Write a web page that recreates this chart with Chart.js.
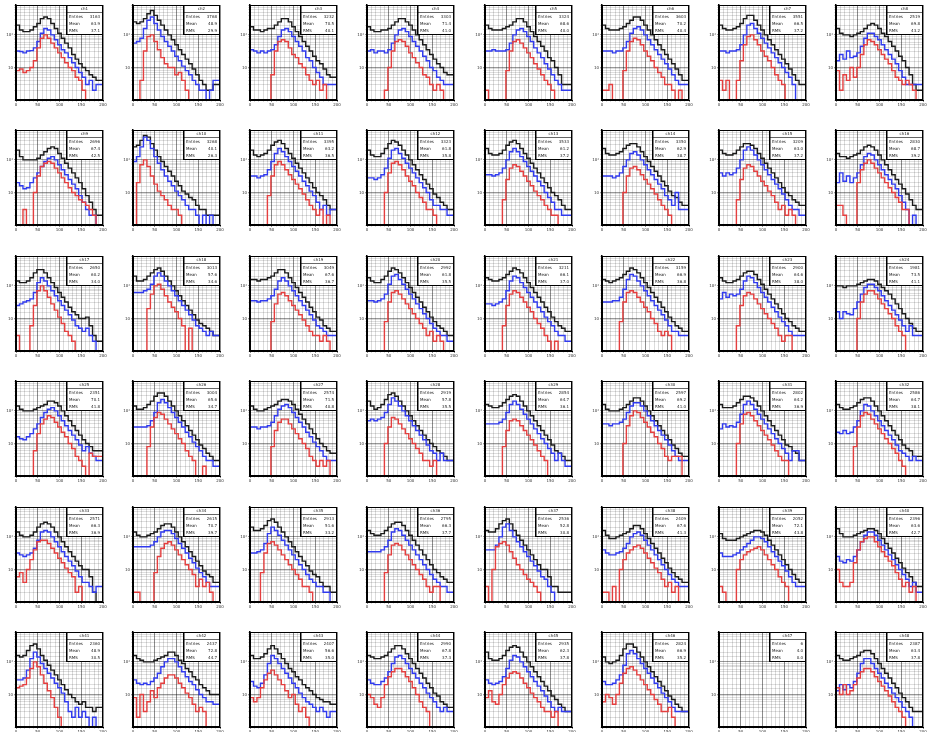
<!DOCTYPE html>
<html>
<head>
<meta charset="utf-8">
<script src="https://cdn.jsdelivr.net/npm/chart.js@4.4.1/dist/chart.umd.min.js"></script>
<style>
  html, body { margin: 0; padding: 0; background: #fff; overflow: hidden; }
  #grid { position: relative; width: 927px; height: 732px; }
  #grid canvas { position: absolute; }
</style>
</head>
<body>
<div id="grid"></div>
<script>
// histogram binning (25 bins over 0..200)
const binWidth = 8;
const xMax = 200;
const yMin = 1;
const yMax = 830;
const xTickLabels = ["0", "50", "100", "150", "200"];
const yTickValues = [10, 100];
const yTickLabels = ["10", "10\u00b2"];

// all entries (black), one row per panel, left to right, top to bottom
const totalHist = [
  [282,200,141,126,126,141,178,224,316,355,316,224,158,112,79,56,40,25,18,13,10,8,6,5,4],
  [355,251,224,251,316,447,562,398,282,200,141,100,71,50,35,25,18,13,9,6,4,3,2,2,3],
  [251,178,141,141,126,141,158,158,200,251,316,316,251,178,126,89,63,45,32,22,16,13,9,6,5],
  [282,178,141,126,126,141,141,158,200,251,316,316,251,200,141,100,71,50,35,25,18,13,10,7,6],
  [282,200,158,141,141,141,158,178,200,251,316,316,251,178,126,89,63,45,32,20,16,10,6,3,3],
  [316,200,158,141,141,141,158,178,224,282,355,355,282,200,141,100,71,50,35,25,18,13,9,6,4],
  [282,200,158,141,141,158,178,224,316,398,398,282,200,141,100,71,50,35,25,18,13,9,6,4,3],
  [282,158,112,100,100,89,100,112,126,158,200,224,200,158,112,89,63,45,32,22,16,10,6,3,2],
  [316,200,126,100,100,100,100,112,141,178,224,251,224,158,112,79,56,40,28,20,13,8,5,3,2],
  [316,251,282,398,562,501,316,200,126,89,63,45,32,22,16,11,9,7,6,4,3,3,2,2,2],
  [316,200,141,126,141,158,200,282,355,398,316,224,158,112,79,56,40,28,20,14,10,8,6,4,3],
  [316,200,141,126,126,158,224,316,398,355,282,200,141,100,71,50,35,25,18,13,9,7,5,4,3],
  [398,224,158,141,141,158,200,282,355,398,316,224,158,112,79,56,40,28,20,14,10,8,6,4,3],
  [355,224,158,141,141,158,178,224,282,316,316,251,178,126,89,63,45,32,22,16,11,8,7,5,4],
  [282,200,158,141,141,158,200,251,316,316,282,224,158,112,79,56,40,28,20,14,10,8,6,5,4],
  [224,158,126,126,112,126,141,158,200,251,282,251,200,141,100,71,50,35,25,18,13,9,6,4,3],
  [178,141,126,126,141,178,251,316,316,251,178,126,89,63,45,32,22,16,13,10,10,11,6,3,2],
  [282,200,141,141,158,200,251,316,355,282,200,141,100,71,50,35,25,18,13,9,7,6,5,4,3],
  [158,158,158,141,158,158,178,200,251,316,316,251,178,126,89,63,45,32,22,16,11,9,6,5,4],
  [251,178,141,126,126,158,200,282,355,316,251,178,126,89,63,45,32,22,16,11,8,6,5,4,3],
  [224,178,158,141,141,158,178,224,282,355,316,251,178,126,89,63,45,32,22,16,11,8,6,5,4],
  [224,158,141,126,141,158,178,224,282,355,316,251,178,126,89,63,45,32,22,16,11,8,6,5,4],
  [251,178,141,126,126,141,158,200,251,282,282,224,158,112,79,56,40,28,20,14,10,8,6,5,4],
  [100,100,100,89,100,100,100,112,126,141,158,158,141,112,89,71,56,40,28,20,14,10,7,5,4],
  [200,141,112,100,100,100,112,126,141,158,200,200,178,141,100,71,50,35,25,18,13,10,8,6,6],
  [200,141,112,112,126,158,200,282,355,355,282,200,141,100,71,50,35,25,18,13,9,7,5,4,3],
  [200,141,112,100,100,112,126,141,158,200,224,224,200,158,112,79,56,40,28,20,14,10,8,6,5],
  [316,200,141,112,126,158,224,316,355,282,200,141,100,71,50,35,25,18,13,10,8,6,5,4,3],
  [200,158,141,126,126,141,178,224,282,316,282,200,141,100,71,50,35,25,18,13,9,6,5,4,3],
  [251,158,112,100,100,100,112,126,158,200,251,251,200,141,100,71,50,35,25,18,13,9,7,5,4],
  [224,158,126,126,126,141,178,224,282,282,251,200,141,100,71,50,35,25,18,13,9,8,6,5,3],
  [224,158,126,112,112,126,141,178,224,251,251,200,141,100,71,50,35,25,18,13,9,7,6,4,4],
  [200,141,112,100,100,112,141,200,251,282,251,200,141,100,71,50,35,25,18,13,10,10,6,2,0],
  [200,141,112,100,100,112,126,141,178,224,251,251,200,141,100,71,50,35,25,18,13,9,7,6,4],
  [355,200,158,158,178,224,316,355,282,200,141,100,71,50,35,25,18,13,9,7,6,4,3,3,2],
  [224,158,126,112,112,126,158,200,251,282,282,224,158,112,79,56,40,28,20,14,10,8,6,5,4],
  [200,158,141,141,178,251,316,355,251,158,112,79,56,40,28,20,14,10,10,6,3,3,2,2,2],
  [251,158,112,89,89,100,112,126,141,178,224,224,178,126,89,63,45,32,22,16,11,8,6,5,4],
  [200,126,89,79,79,79,89,100,112,126,141,158,158,141,112,79,56,40,28,20,14,10,7,5,4],
  [316,178,126,100,100,100,112,126,141,158,178,178,158,126,89,63,45,32,22,16,11,8,6,4,3],
  [200,158,141,158,224,316,355,251,158,112,79,56,40,28,20,14,10,8,6,5,6,4,4,3,4],
  [200,158,126,112,100,100,100,112,126,141,158,200,200,158,112,89,63,50,35,28,20,16,13,10,10],
  [200,158,126,126,141,178,251,316,251,178,126,89,63,50,35,28,20,16,13,10,8,7,6,6,5],
  [200,158,141,126,126,141,158,200,251,316,316,251,178,126,89,63,45,32,22,16,11,9,6,5,4],
  [316,200,126,112,112,126,158,224,282,316,282,200,141,100,71,50,35,25,18,13,9,7,5,4,3],
  [200,141,100,89,100,112,158,251,355,355,282,200,141,100,71,50,35,25,18,13,9,7,5,4,3],
  [6,0,0,0,0,0,0,0,0,0,0,0,0,0,0,0,0,0,0,0,0,0,0,0,0],
  [200,158,126,112,112,126,141,158,200,224,224,178,126,89,63,45,32,22,16,11,8,6,4,3,3]
];

// blue selection
const blueHist = [
  [40,32,31,28,32,33,40,63,112,158,141,100,71,50,35,28,20,14,10,7,5,3,4,2,3],
  [89,56,63,79,158,282,355,224,141,89,63,45,32,22,16,11,8,6,4,3,2,2,0,2,4],
  [40,35,32,28,32,28,32,35,50,89,141,158,126,89,63,45,32,20,16,10,7,5,3,3,3],
  [35,32,35,28,32,32,28,35,56,100,141,158,126,89,63,45,32,22,16,10,8,5,4,3,3],
  [40,32,32,35,32,32,32,35,56,100,141,158,126,89,63,40,28,20,13,9,6,4,3,2,2],
  [35,32,32,32,28,32,32,40,63,112,158,178,141,100,71,50,35,25,18,13,9,6,4,3,3],
  [40,32,32,28,32,32,35,50,100,200,224,158,112,79,56,40,28,20,14,10,7,5,3,0,0],
  [35,16,25,18,32,20,22,28,45,79,112,112,89,71,50,35,25,18,13,8,5,3,3,3,3],
  [25,20,16,13,14,20,28,40,63,89,112,126,100,71,50,35,25,18,13,8,5,3,2,2,0],
  [100,89,126,251,501,398,224,126,79,50,32,22,16,11,8,6,4,3,3,2,0,2,0,2,0],
  [35,32,32,28,32,35,50,89,158,224,178,126,89,63,45,32,22,16,11,8,5,3,4,2,3],
  [32,28,28,25,28,35,56,112,200,224,158,112,79,56,40,28,20,14,10,6,4,4,3,3,2],
  [40,35,35,32,35,40,56,100,178,224,178,126,89,63,45,32,22,16,10,7,5,3,3,2,2],
  [35,32,32,32,28,32,40,63,100,158,178,141,100,71,50,35,25,18,13,8,6,4,10,3,3],
  [35,40,32,40,35,40,56,100,200,251,200,141,100,71,50,35,25,18,13,9,6,4,3,3,2],
  [28,20,40,22,32,20,28,40,71,126,158,141,100,71,50,35,25,18,13,8,5,3,0,2,0],
  [22,25,28,32,35,40,63,126,178,141,100,71,50,35,25,18,13,9,6,5,4,5,3,2,0],
  [71,63,63,63,71,79,112,200,251,200,141,100,71,50,35,25,18,13,9,6,5,4,3,4,3],
  [40,35,35,32,35,35,40,50,79,141,178,141,100,71,50,35,25,18,13,9,6,5,4,3,3],
  [40,35,35,32,35,40,56,112,200,224,158,112,79,56,40,28,20,14,10,7,5,4,3,3,2],
  [32,28,28,25,28,32,40,71,141,200,178,126,89,63,45,32,22,16,11,8,6,4,3,3,2],
  [35,32,32,32,35,35,45,79,158,224,200,141,100,71,50,35,25,18,13,9,6,4,4,3,3],
  [50,40,63,45,56,50,56,79,141,200,178,126,89,63,45,32,22,16,11,8,6,4,3,3,3],
  [13,16,10,16,14,13,20,32,56,89,112,112,89,71,50,35,25,18,13,9,6,4,6,3,3],
  [22,16,14,13,16,20,28,40,63,89,112,126,100,71,50,35,25,18,13,9,6,8,5,4,3],
  [35,32,32,32,32,35,50,89,178,224,178,126,89,63,45,32,22,16,11,8,6,4,3,3,2],
  [35,32,32,28,32,32,35,45,71,112,141,158,126,89,63,45,32,22,16,11,8,6,4,3,3],
  [56,50,56,50,56,63,89,158,251,200,141,100,71,50,35,25,18,13,9,6,5,3,5,3,3],
  [45,40,40,40,40,45,56,89,158,200,158,112,79,56,40,28,20,14,10,7,5,3,5,3,2],
  [45,40,40,35,40,40,45,56,89,141,178,178,141,100,71,50,35,25,18,13,9,6,4,3,3],
  [35,28,40,32,35,32,45,79,158,200,158,112,79,56,40,28,20,14,10,7,5,3,6,6,3],
  [28,22,20,25,20,22,32,50,100,158,141,100,71,50,35,25,18,13,9,6,5,4,3,4,3],
  [40,32,28,25,28,32,45,79,141,158,141,100,71,50,35,25,18,13,9,6,4,4,3,2,3],
  [56,50,50,50,50,50,56,71,100,141,158,158,126,89,63,45,32,22,16,11,8,6,4,3,3],
  [35,32,32,35,40,63,126,200,158,112,79,56,40,28,20,14,10,7,5,4,3,3,2,2,0],
  [40,35,35,35,35,40,50,79,141,178,158,112,79,56,40,28,20,14,10,7,5,4,3,3,2],
  [45,40,40,40,56,100,200,251,158,100,71,50,35,25,18,13,9,6,5,3,2,0,0,0,0],
  [50,40,32,28,28,32,35,45,63,100,126,141,112,79,56,40,28,20,14,10,7,5,4,3,3],
  [40,32,25,25,25,28,32,40,50,63,79,100,100,89,71,50,35,25,18,13,9,6,4,3,3],
  [35,25,18,16,20,18,25,40,71,112,141,141,112,79,56,40,28,20,14,10,7,5,3,4,2],
  [35,28,28,32,56,126,200,141,89,63,45,32,22,16,11,6,3,2,4,2,3,2,0,2,0],
  [32,28,22,20,22,20,25,32,45,71,100,126,126,100,71,50,35,25,20,14,10,8,6,6,5],
  [32,25,18,16,22,40,89,158,126,89,63,45,32,22,16,11,8,6,5,4,3,4,3,2,3],
  [35,28,22,20,20,25,32,50,89,141,158,126,89,63,45,32,22,16,11,8,6,4,3,4,3],
  [40,28,22,20,22,25,35,63,112,158,141,100,71,50,35,25,18,13,9,6,4,3,4,3,3],
  [32,25,20,20,22,28,40,79,178,224,178,126,89,63,45,32,22,16,11,8,6,4,3,3,3],
  [0,0,0,0,0,0,0,0,0,0,0,0,0,0,0,0,0,0,0,0,0,0,0,0,0],
  [18,13,20,14,20,16,25,45,89,126,126,89,63,45,32,22,16,11,8,6,4,3,2,0,0]
];

// red selection
const redHist = [
  [0,8,9,7,8,10,16,40,79,100,79,56,40,28,20,14,10,8,5,4,2,0,0,0,0],
  [0,0,0,4,32,89,100,63,35,20,13,10,10,6,7,4,2,0,0,0,0,0,0,0,0],
  [0,0,0,0,0,0,0,6,32,63,71,63,40,25,20,13,10,6,4,3,4,2,3,0,0],
  [0,0,0,0,0,0,2,10,32,63,71,63,45,28,20,14,10,6,5,3,2,3,2,0,0],
  [0,2,0,0,0,0,0,8,32,63,71,56,40,28,20,13,9,6,4,3,2,0,0,0,0],
  [0,2,2,3,0,0,0,8,32,63,79,71,50,32,22,16,10,7,5,3,3,2,0,2,0],
  [0,4,2,4,0,0,4,16,50,89,100,71,50,32,22,16,10,6,4,3,0,0,0,0,0],
  [0,8,2,6,4,10,5,10,25,50,71,63,50,35,25,18,13,8,5,4,3,4,3,2,0],
  [0,0,0,3,0,0,10,32,63,79,89,79,56,40,28,20,14,10,8,6,5,4,3,2,0],
  [0,0,20,71,100,63,32,18,11,8,6,4,3,3,2,0,0,0,0,0,0,0,0,0,0],
  [0,0,0,0,0,0,8,32,71,89,71,50,35,25,18,13,9,6,4,3,2,3,0,2,0],
  [0,0,0,0,0,0,10,40,79,89,71,50,32,22,16,10,7,5,3,3,2,0,0,0,0],
  [0,0,0,0,0,0,6,25,56,71,63,45,32,22,16,11,8,6,4,3,2,2,0,0,0],
  [0,0,0,0,0,0,0,10,32,56,63,50,35,25,18,13,9,6,4,3,2,0,0,0,0],
  [0,0,0,0,0,0,6,25,56,71,63,45,32,22,16,11,8,5,3,4,2,3,2,0,0],
  [0,4,4,2,0,0,0,20,50,79,100,79,56,40,28,20,14,10,7,5,3,3,0,0,0],
  [0,3,0,0,0,6,25,71,100,71,45,28,18,11,7,4,3,2,0,0,0,0,0,0,0],
  [0,0,0,0,0,20,56,100,112,79,50,32,22,16,10,6,0,5,0,0,0,0,0,0,0],
  [0,0,0,0,0,0,0,8,28,56,63,50,35,25,18,13,9,6,4,3,3,2,3,2,0],
  [0,0,0,0,0,0,8,32,63,71,56,40,28,20,14,10,7,5,3,4,2,3,2,0,0],
  [0,0,0,0,0,0,6,25,56,71,63,45,32,22,16,10,7,5,3,2,0,2,0,0,0],
  [0,0,0,0,0,0,8,32,63,71,63,45,32,22,16,10,7,4,3,4,3,0,0,0,0],
  [0,0,0,0,0,0,6,25,50,63,56,40,28,20,14,10,7,5,3,2,3,3,0,0,0],
  [0,0,0,0,0,0,0,10,32,56,71,71,56,40,28,20,14,10,6,4,3,0,0,0,0],
  [0,0,0,0,0,0,6,20,40,56,71,63,45,32,22,16,10,7,4,3,2,0,5,4,4],
  [0,0,0,0,0,8,32,63,89,79,56,40,28,20,14,10,6,4,3,0,0,2,0,0,0],
  [0,0,0,0,0,0,0,8,25,45,56,56,40,28,20,14,10,7,4,3,2,3,2,3,0],
  [0,0,0,0,0,0,10,32,63,56,40,28,20,14,10,7,5,3,3,2,3,0,0,0,0],
  [0,0,0,0,0,0,8,25,50,56,50,35,25,18,13,9,6,4,3,0,0,0,0,0,0],
  [0,0,0,0,0,0,0,10,35,71,100,89,63,45,32,22,16,10,7,4,3,4,4,4,0],
  [0,0,0,0,0,0,10,40,79,89,71,50,35,25,18,13,9,6,4,3,3,0,0,0,0],
  [0,0,0,0,0,0,8,32,71,89,79,56,40,28,20,14,10,7,5,3,2,0,0,0,0],
  [11,6,8,4,10,20,40,71,79,79,63,45,32,22,16,11,8,6,2,3,0,0,0,0,0],
  [0,2,2,0,0,0,0,8,25,45,63,71,56,40,28,20,14,10,7,3,5,3,4,2,0],
  [0,0,0,0,8,32,63,71,56,40,28,20,14,10,7,5,3,3,2,0,0,0,0,0,0],
  [0,0,0,0,0,0,8,28,56,63,56,40,28,20,14,10,7,5,3,2,3,3,0,0,0],
  [0,3,0,10,50,63,71,56,35,22,14,10,7,5,4,3,2,0,0,0,0,0,0,0,0],
  [0,2,2,0,3,0,10,20,32,40,50,56,45,32,22,16,11,8,5,3,4,2,3,0,0],
  [3,3,2,0,0,0,10,20,28,35,40,45,50,40,28,20,14,10,6,4,3,0,0,0,0],
  [0,10,4,3,3,4,16,40,71,89,100,100,71,50,35,25,18,13,8,5,3,4,2,3,0],
  [0,16,18,20,32,63,100,71,40,22,13,8,4,2,0,0,0,0,0,0,0,0,0,0,0],
  [3,8,2,10,3,6,13,8,16,22,32,40,40,32,22,16,11,8,5,3,4,3,0,0,0],
  [0,8,6,8,16,28,45,56,40,28,20,13,8,10,5,3,4,2,0,0,0,0,0,0,0],
  [0,10,8,5,4,8,20,35,50,63,63,50,35,25,16,10,6,4,3,0,0,0,0,0,0],
  [0,8,13,6,5,10,20,32,45,50,45,32,22,16,11,8,6,4,3,3,2,3,0,0,0],
  [0,6,10,8,5,10,22,45,63,71,56,40,28,20,14,10,7,5,3,3,4,2,0,0,0],
  [0,0,0,0,0,0,0,0,0,0,0,0,0,0,0,0,0,0,0,0,0,0,0,0,0],
  [0,16,10,20,10,13,20,32,50,63,63,50,35,25,18,13,9,6,4,3,2,0,0,0,0]
];

const nCols = 8;
const cellW = 117;
const cellH = 125;
const colPitch = 117.14;
const rowPitch = 125.4;

// histogram outline: up from the floor at x=0, steps across, back down at the end.
// empty bins sit on the axis floor (log scale cannot show 0)
function stepPoints(counts) {
  const floor = c => Math.max(c, yMin);
  const pts = [{x: 0, y: yMin}];
  counts.forEach((c, i) => pts.push({x: i * binWidth, y: floor(c)}));
  pts.push({x: xMax, y: floor(counts[counts.length - 1])});
  pts.push({x: xMax, y: yMin});
  return pts;
}

function stats(counts) {
  let n = 0, s = 0, s2 = 0;
  counts.forEach((c, i) => {
    const x = (i + 0.5) * binWidth;
    n += c; s += c * x; s2 += c * x * x;
  });
  const mean = n ? s / n : 0;
  const rms = n ? Math.sqrt(Math.max(s2 / n - mean * mean, 0)) : 0;
  return {n, mean, rms};
}

const framePlugin = {
  id: 'frame',
  afterDatasetsDraw(chart, args, opts) {
    const {ctx, chartArea: a} = chart;
    ctx.save();
    ctx.strokeStyle = '#000';
    ctx.lineWidth = 1;
    ctx.strokeRect(a.left + 0.5, a.top + 0.5, a.width - 1, a.height - 1);

    // stats box, top right
    const bx = Math.round(a.left + a.width * 0.57);
    const by = a.top;
    const bw = a.right - bx;
    const bh = Math.round(a.height * 0.32);
    ctx.fillStyle = '#fff';
    ctx.fillRect(bx, by, bw, bh);
    ctx.strokeRect(bx + 0.5, by + 0.5, bw - 1, bh - 1);
    ctx.lineWidth = 1.5;
    ctx.beginPath();
    ctx.moveTo(bx + 0.75, by);
    ctx.lineTo(bx + 0.75, by + bh);
    ctx.stroke();
    ctx.lineWidth = 0.6;
    ctx.beginPath();
    ctx.moveTo(bx, by + 7.5);
    ctx.lineTo(bx + bw, by + 7.5);
    ctx.stroke();

    ctx.fillStyle = '#222';
    ctx.font = '4px "DejaVu Sans"';
    ctx.textBaseline = 'middle';
    ctx.textAlign = 'center';
    ctx.fillText(opts.title, bx + bw / 2, by + 4);
    opts.rows.forEach((r, k) => {
      const y = by + 12 + k * 7;
      ctx.textAlign = 'left';
      ctx.fillText(r[0], bx + 3, y);
      ctx.textAlign = 'right';
      ctx.fillText(r[1], bx + bw - 3, y);
    });
    ctx.restore();
  }
};

const grid = document.getElementById('grid');

totalHist.forEach((tot, p) => {
  const col = p % nCols;
  const row = Math.floor(p / nCols);
  const canvas = document.createElement('canvas');
  canvas.width = cellW;
  canvas.height = cellH;
  canvas.style.left = Math.round(col * colPitch) + 'px';
  canvas.style.top = Math.round(row * rowPitch) + 'px';
  grid.appendChild(canvas);

  const st = stats(tot);

  new Chart(canvas, {
    type: 'line',
    data: {
      datasets: [
        {label: 'red', data: stepPoints(redHist[p]), borderColor: 'rgb(228,62,62)'},
        {label: 'blue', data: stepPoints(blueHist[p]), borderColor: 'rgb(48,58,238)'},
        {label: 'all', data: stepPoints(tot), borderColor: '#1a1a1a'}
      ].map(d => Object.assign(d, {stepped: 'after', pointRadius: 0, borderWidth: 1.4, fill: false}))
    },
    options: {
      responsive: false,
      animation: false,
      events: [],
      layout: {padding: {top: 5, right: cellW - 15 - 88, left: 0, bottom: 0}},
      plugins: {
        legend: {display: false},
        tooltip: {enabled: false},
        frame: {
          title: 'ch' + (p + 1),
          rows: [
            ['Entries', String(st.n)],
            ['Mean', st.mean.toFixed(1)],
            ['RMS', st.rms.toFixed(1)]
          ]
        }
      },
      scales: {
        x: {
          type: 'linear',
          min: 0,
          max: xMax,
          afterFit(s) { s.height = 25; },
          border: {display: true, color: '#000'},
          grid: {
            color: c => (c.tick && c.tick.value % 50 === 0) ? 'rgba(0,0,0,0.45)' : 'rgba(0,0,0,0.14)',
            tickLength: 2
          },
          ticks: {
            stepSize: 10,
            autoSkip: false,
            maxRotation: 0,
            padding: 1,
            color: '#333',
            font: {size: 4, family: 'DejaVu Sans'},
            callback: v => v % 50 === 0 ? xTickLabels[v / 50] : ''
          }
        },
        y: {
          type: 'logarithmic',
          min: yMin,
          max: yMax,
          afterFit(s) { s.width = 16; },
          border: {display: true, color: '#000', width: 1.5},
          grid: {
            color: c => (c.tick && yTickValues.includes(c.tick.value)) ? 'rgba(0,0,0,0.4)' : 'rgba(0,0,0,0.13)',
            tickLength: 2
          },
          ticks: {
            autoSkip: false,
            padding: 1,
            color: '#333',
            font: {size: 4, family: 'DejaVu Sans'},
            callback: v => {
              const k = yTickValues.indexOf(v);
              return k >= 0 ? yTickLabels[k] : '';
            }
          }
        }
      }
    },
    plugins: [framePlugin]
  });
});
</script>
</body>
</html>
